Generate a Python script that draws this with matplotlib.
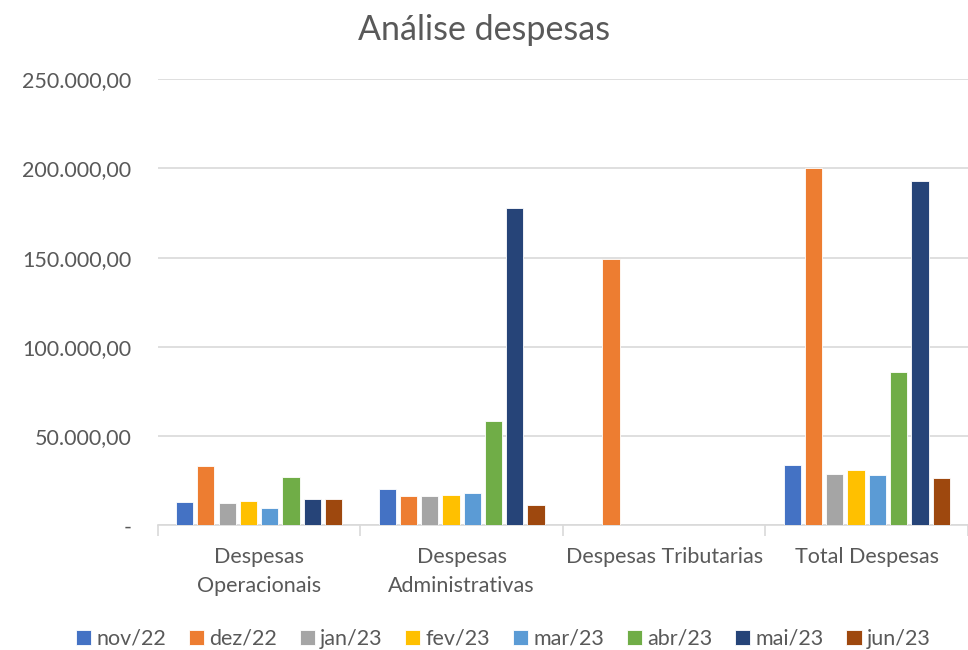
import numpy as np
import matplotlib.pyplot as plt
from matplotlib.ticker import FuncFormatter

categorias = ["Despesas\nOperacionais", "Despesas\nAdministrativas",
              "Despesas Tributarias", "Total Despesas"]
meses = ["nov/22", "dez/22", "jan/23", "fev/23",
         "mar/23", "abr/23", "mai/23", "jun/23"]

# valores por mes: [Operacionais, Administrativas, Tributarias, Total]
nov22 = [13270, 20380, 0, 33850]
dez22 = [33040, 16630, 149470, 200150]
jan23 = [12300, 16240, 0, 28960]
fev23 = [13830, 17020, 0, 30870]
mar23 = [9520, 18300, 0, 28070]
abr23 = [27100, 58630, 0, 86050]
mai23 = [14950, 177900, 0, 193090]
jun23 = [14780, 11590, 0, 26380]

series = [nov22, dez22, jan23, fev23, mar23, abr23, mai23, jun23]
cores = ["#4472C4", "#ED7D31", "#A5A5A5", "#FFC000",
         "#5B9BD5", "#70AD47", "#264478", "#9E480E"]

plt.rcParams['font.family'] = ['Lato', 'DejaVu Sans']
texto = "#595959"

fig = plt.figure(figsize=(9.68, 6.5), dpi=100)
ax = fig.add_axes([0.163, 0.192, 0.837, 0.686])

x = np.arange(len(categorias))
slot = 0.105
largura = 0.085
for i, (vals, cor, nome) in enumerate(zip(series, cores, meses)):
    pos = x + (i - 3.5) * slot
    ax.bar(pos, vals, width=largura, color=cor, edgecolor="white",
           linewidth=0.6, label=nome, zorder=3)

ax.set_xlim(-0.5, 3.5)
ax.set_ylim(0, 250000)
ax.set_yticks(np.arange(0, 250001, 50000))

def fmt(v, p):
    if v == 0:
        return "-"
    return "{:,.2f}".format(v).replace(",", "X").replace(".", ",").replace("X", ".")

ax.yaxis.set_major_formatter(FuncFormatter(fmt))
ax.grid(axis="y", color="#d9d9d9", linewidth=1.2, zorder=0)
for s in ["top", "right", "left"]:
    ax.spines[s].set_visible(False)
ax.spines["bottom"].set_color("#d9d9d9")
ax.spines["bottom"].set_linewidth(1.2)

ax.set_xticks(x)
ax.set_xticklabels(categorias, fontsize=15.5, color=texto, linespacing=1.55)
ax.set_xticks(np.arange(-0.5, 3.6, 1), minor=True)
ax.tick_params(axis="x", which="major", length=0, pad=16)
ax.tick_params(axis="x", which="minor", length=8, color="#d9d9d9", width=1.2)
ax.tick_params(axis="y", length=0, labelsize=15.5, labelcolor=texto, pad=19)

fig.suptitle("Análise despesas", fontsize=24.5, color=texto, y=0.978)

handles, labels = ax.get_legend_handles_labels()
fig.legend(handles, labels, loc="lower center", ncol=8, frameon=False,
           fontsize=15.5, labelcolor=texto, handlelength=0.7, handleheight=0.7,
           handletextpad=0.25, columnspacing=1.05, bbox_to_anchor=(0.52, -0.028))

fig.savefig("out.png", dpi=100)
